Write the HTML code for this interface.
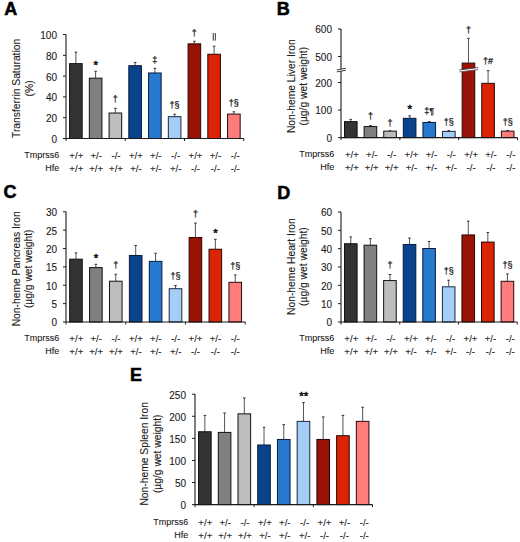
<!DOCTYPE html>
<html><head><meta charset="utf-8"><style>
html,body{margin:0;padding:0;background:#fff;width:520px;height:542px;overflow:hidden}
svg{display:block;font-family:"Liberation Sans",sans-serif}
text{fill:#1a1a1a;stroke:#1a1a1a;stroke-width:0.1px}
</style></head><body>
<svg width="520" height="542" viewBox="0 0 520 542">
<text x="4.20" y="14.80" font-size="18" text-anchor="start" font-weight="bold" style="fill:#000;stroke:#000;stroke-width:0.55px">A</text>
<line x1="75.88" y1="63.62" x2="75.88" y2="52.18" stroke="#555" stroke-width="1"/>
<line x1="74.58" y1="52.18" x2="77.17" y2="52.18" stroke="#333" stroke-width="1"/>
<rect x="69.58" y="63.62" width="12.60" height="74.88" fill="#333333" stroke="#111" stroke-width="1"/>
<line x1="95.62" y1="78.18" x2="95.62" y2="71.21" stroke="#555" stroke-width="1"/>
<line x1="94.33" y1="71.21" x2="96.92" y2="71.21" stroke="#333" stroke-width="1"/>
<rect x="89.33" y="78.18" width="12.60" height="60.32" fill="#808080" stroke="#111" stroke-width="1"/>
<text x="95.83" y="68.99" font-size="11.5" text-anchor="middle" font-weight="normal" style="stroke-width:0.6px">*</text>
<line x1="115.38" y1="113.02" x2="115.38" y2="108.34" stroke="#555" stroke-width="1"/>
<line x1="114.08" y1="108.34" x2="116.67" y2="108.34" stroke="#333" stroke-width="1"/>
<rect x="109.08" y="113.02" width="12.60" height="25.48" fill="#bdbdbd" stroke="#111" stroke-width="1"/>
<text x="115.38" y="102.16" font-size="9.0" text-anchor="middle" font-weight="normal" style="stroke-width:0.25px">†</text>
<line x1="135.12" y1="65.70" x2="135.12" y2="62.58" stroke="#555" stroke-width="1"/>
<line x1="133.82" y1="62.58" x2="136.43" y2="62.58" stroke="#333" stroke-width="1"/>
<rect x="128.82" y="65.70" width="12.60" height="72.80" fill="#08438c" stroke="#0a1a3a" stroke-width="1"/>
<line x1="154.88" y1="72.98" x2="154.88" y2="68.30" stroke="#555" stroke-width="1"/>
<line x1="153.57" y1="68.30" x2="156.18" y2="68.30" stroke="#333" stroke-width="1"/>
<rect x="148.57" y="72.98" width="12.60" height="65.52" fill="#2679cf" stroke="#0a1a3a" stroke-width="1"/>
<text x="154.88" y="62.91" font-size="9.0" text-anchor="middle" font-weight="normal" style="stroke-width:0.25px">‡</text>
<line x1="174.62" y1="116.66" x2="174.62" y2="114.27" stroke="#555" stroke-width="1"/>
<line x1="173.32" y1="114.27" x2="175.93" y2="114.27" stroke="#333" stroke-width="1"/>
<rect x="168.32" y="116.66" width="12.60" height="21.84" fill="#a4cef6" stroke="#1a2a40" stroke-width="1"/>
<text x="174.62" y="108.08" font-size="9.0" text-anchor="middle" font-weight="normal" style="stroke-width:0.25px">†§</text>
<line x1="194.38" y1="43.86" x2="194.38" y2="41.26" stroke="#555" stroke-width="1"/>
<line x1="193.07" y1="41.26" x2="195.68" y2="41.26" stroke="#333" stroke-width="1"/>
<rect x="188.07" y="43.86" width="12.60" height="94.64" fill="#981206" stroke="#2a0503" stroke-width="1"/>
<text x="194.38" y="35.87" font-size="9.0" text-anchor="middle" font-weight="normal" style="stroke-width:0.25px">†</text>
<line x1="214.12" y1="54.26" x2="214.12" y2="46.25" stroke="#555" stroke-width="1"/>
<line x1="212.82" y1="46.25" x2="215.43" y2="46.25" stroke="#333" stroke-width="1"/>
<rect x="207.82" y="54.26" width="12.60" height="84.24" fill="#da2404" stroke="#2a0503" stroke-width="1"/>
<line x1="213.22" y1="33.05" x2="213.22" y2="40.65" stroke="#2a2a2a" stroke-width="0.95"/>
<line x1="215.32" y1="33.05" x2="215.32" y2="40.65" stroke="#2a2a2a" stroke-width="0.95"/>
<line x1="233.88" y1="114.06" x2="233.88" y2="111.77" stroke="#555" stroke-width="1"/>
<line x1="232.57" y1="111.77" x2="235.18" y2="111.77" stroke="#333" stroke-width="1"/>
<rect x="227.57" y="114.06" width="12.60" height="24.44" fill="#ff7c7c" stroke="#2a0a0a" stroke-width="1"/>
<text x="233.88" y="105.59" font-size="9.0" text-anchor="middle" font-weight="normal" style="stroke-width:0.25px">†§</text>
<line x1="66.00" y1="34.50" x2="66.00" y2="138.50" stroke="#1a1a1a" stroke-width="1.1"/>
<line x1="63.00" y1="138.50" x2="66.00" y2="138.50" stroke="#1a1a1a" stroke-width="1"/>
<text x="57.00" y="142.90" font-size="10" text-anchor="end" font-weight="normal" >0</text>
<line x1="63.00" y1="117.70" x2="66.00" y2="117.70" stroke="#1a1a1a" stroke-width="1"/>
<text x="57.00" y="122.10" font-size="10" text-anchor="end" font-weight="normal" >20</text>
<line x1="63.00" y1="96.90" x2="66.00" y2="96.90" stroke="#1a1a1a" stroke-width="1"/>
<text x="57.00" y="101.30" font-size="10" text-anchor="end" font-weight="normal" >40</text>
<line x1="63.00" y1="76.10" x2="66.00" y2="76.10" stroke="#1a1a1a" stroke-width="1"/>
<text x="57.00" y="80.50" font-size="10" text-anchor="end" font-weight="normal" >60</text>
<line x1="63.00" y1="55.30" x2="66.00" y2="55.30" stroke="#1a1a1a" stroke-width="1"/>
<text x="57.00" y="59.70" font-size="10" text-anchor="end" font-weight="normal" >80</text>
<line x1="63.00" y1="34.50" x2="66.00" y2="34.50" stroke="#1a1a1a" stroke-width="1"/>
<text x="57.00" y="38.90" font-size="10" text-anchor="end" font-weight="normal" >100</text>
<line x1="66.00" y1="138.50" x2="243.75" y2="138.50" stroke="#1a1a1a" stroke-width="1.1"/>
<line x1="66.00" y1="138.50" x2="66.00" y2="141.00" stroke="#1a1a1a" stroke-width="1"/>
<line x1="125.25" y1="138.50" x2="125.25" y2="141.00" stroke="#1a1a1a" stroke-width="1"/>
<line x1="184.50" y1="138.50" x2="184.50" y2="141.00" stroke="#1a1a1a" stroke-width="1"/>
<line x1="243.75" y1="138.50" x2="243.75" y2="141.00" stroke="#1a1a1a" stroke-width="1"/>
<text x="59.30" y="157.70" font-size="9" text-anchor="end" font-weight="normal" >Tmprss6</text>
<text x="59.30" y="170.80" font-size="9" text-anchor="end" font-weight="normal" >Hfe</text>
<text x="76.30" y="158.70" font-size="9.6" text-anchor="middle" font-weight="normal" >+/+</text>
<text x="76.30" y="171.70" font-size="9.6" text-anchor="middle" font-weight="normal" >+/+</text>
<text x="96.17" y="158.70" font-size="9.6" text-anchor="middle" font-weight="normal" >+/-</text>
<text x="96.17" y="171.70" font-size="9.6" text-anchor="middle" font-weight="normal" >+/+</text>
<text x="116.04" y="158.70" font-size="9.6" text-anchor="middle" font-weight="normal" >-/-</text>
<text x="116.04" y="171.70" font-size="9.6" text-anchor="middle" font-weight="normal" >+/+</text>
<text x="135.91" y="158.70" font-size="9.6" text-anchor="middle" font-weight="normal" >+/+</text>
<text x="135.91" y="171.70" font-size="9.6" text-anchor="middle" font-weight="normal" >+/-</text>
<text x="155.78" y="158.70" font-size="9.6" text-anchor="middle" font-weight="normal" >+/-</text>
<text x="155.78" y="171.70" font-size="9.6" text-anchor="middle" font-weight="normal" >+/-</text>
<text x="175.65" y="158.70" font-size="9.6" text-anchor="middle" font-weight="normal" >-/-</text>
<text x="175.65" y="171.70" font-size="9.6" text-anchor="middle" font-weight="normal" >+/-</text>
<text x="195.52" y="158.70" font-size="9.6" text-anchor="middle" font-weight="normal" >+/+</text>
<text x="195.52" y="171.70" font-size="9.6" text-anchor="middle" font-weight="normal" >-/-</text>
<text x="215.39" y="158.70" font-size="9.6" text-anchor="middle" font-weight="normal" >+/-</text>
<text x="215.39" y="171.70" font-size="9.6" text-anchor="middle" font-weight="normal" >-/-</text>
<text x="235.26" y="158.70" font-size="9.6" text-anchor="middle" font-weight="normal" >-/-</text>
<text x="235.26" y="171.70" font-size="9.6" text-anchor="middle" font-weight="normal" >-/-</text>
<text x="0.00" y="0.00" font-size="10.3" text-anchor="middle" font-weight="normal" transform="translate(20.30,88.40) rotate(-90)">Transferrin Saturation</text>
<text x="0.00" y="0.00" font-size="10.3" text-anchor="middle" font-weight="normal" transform="translate(33.30,88.40) rotate(-90)">(%)</text>
<text x="276.80" y="14.90" font-size="18" text-anchor="start" font-weight="bold" style="fill:#000;stroke:#000;stroke-width:0.55px">B</text>
<line x1="350.81" y1="121.62" x2="350.81" y2="119.42" stroke="#555" stroke-width="1"/>
<line x1="349.51" y1="119.42" x2="352.11" y2="119.42" stroke="#333" stroke-width="1"/>
<rect x="344.51" y="121.62" width="12.60" height="15.98" fill="#333333" stroke="#111" stroke-width="1"/>
<line x1="370.42" y1="126.58" x2="370.42" y2="125.48" stroke="#555" stroke-width="1"/>
<line x1="369.12" y1="125.48" x2="371.72" y2="125.48" stroke="#333" stroke-width="1"/>
<rect x="364.12" y="126.58" width="12.60" height="11.02" fill="#808080" stroke="#111" stroke-width="1"/>
<text x="370.42" y="119.29" font-size="9.0" text-anchor="middle" font-weight="normal" style="stroke-width:0.25px">†</text>
<line x1="390.03" y1="131.13" x2="390.03" y2="130.85" stroke="#555" stroke-width="1"/>
<line x1="388.73" y1="130.85" x2="391.33" y2="130.85" stroke="#333" stroke-width="1"/>
<rect x="383.73" y="131.13" width="12.60" height="6.47" fill="#bdbdbd" stroke="#111" stroke-width="1"/>
<text x="390.03" y="125.67" font-size="9.0" text-anchor="middle" font-weight="normal" style="stroke-width:0.25px">†</text>
<line x1="409.64" y1="118.31" x2="409.64" y2="115.84" stroke="#555" stroke-width="1"/>
<line x1="408.34" y1="115.84" x2="410.94" y2="115.84" stroke="#333" stroke-width="1"/>
<rect x="403.34" y="118.31" width="12.60" height="19.28" fill="#08438c" stroke="#0a1a3a" stroke-width="1"/>
<text x="409.84" y="112.52" font-size="11.5" text-anchor="middle" font-weight="normal" style="stroke-width:0.6px">*</text>
<line x1="429.25" y1="122.45" x2="429.25" y2="121.62" stroke="#555" stroke-width="1"/>
<line x1="427.95" y1="121.62" x2="430.55" y2="121.62" stroke="#333" stroke-width="1"/>
<rect x="422.95" y="122.45" width="12.60" height="15.15" fill="#2679cf" stroke="#0a1a3a" stroke-width="1"/>
<text x="429.25" y="113.74" font-size="9.0" text-anchor="middle" font-weight="normal" style="stroke-width:0.25px">‡¶</text>
<line x1="448.86" y1="131.37" x2="448.86" y2="130.57" stroke="#555" stroke-width="1"/>
<line x1="447.56" y1="130.57" x2="450.16" y2="130.57" stroke="#333" stroke-width="1"/>
<rect x="442.56" y="131.37" width="12.60" height="6.23" fill="#a4cef6" stroke="#1a2a40" stroke-width="1"/>
<text x="448.86" y="125.19" font-size="9.0" text-anchor="middle" font-weight="normal" style="stroke-width:0.25px">†§</text>
<line x1="468.47" y1="63.10" x2="468.47" y2="38.35" stroke="#555" stroke-width="1"/>
<line x1="467.17" y1="38.35" x2="469.77" y2="38.35" stroke="#333" stroke-width="1"/>
<rect x="462.17" y="63.10" width="12.60" height="74.50" fill="#981206" stroke="#2a0503" stroke-width="1"/>
<text x="468.47" y="33.16" font-size="9.0" text-anchor="middle" font-weight="normal" style="stroke-width:0.25px">†</text>
<line x1="488.08" y1="83.33" x2="488.08" y2="70.65" stroke="#555" stroke-width="1"/>
<line x1="486.78" y1="70.65" x2="489.38" y2="70.65" stroke="#333" stroke-width="1"/>
<rect x="481.78" y="83.33" width="12.60" height="54.27" fill="#da2404" stroke="#2a0503" stroke-width="1"/>
<text x="488.08" y="64.47" font-size="9.0" text-anchor="middle" font-weight="normal" style="stroke-width:0.25px">†#</text>
<line x1="507.69" y1="131.13" x2="507.69" y2="130.44" stroke="#555" stroke-width="1"/>
<line x1="506.39" y1="130.44" x2="508.99" y2="130.44" stroke="#333" stroke-width="1"/>
<rect x="501.39" y="131.13" width="12.60" height="6.47" fill="#ff7c7c" stroke="#2a0a0a" stroke-width="1"/>
<text x="507.69" y="125.25" font-size="9.0" text-anchor="middle" font-weight="normal" style="stroke-width:0.25px">†§</text>
<line x1="341.00" y1="29.00" x2="341.00" y2="137.60" stroke="#1a1a1a" stroke-width="1.1"/>
<line x1="338.00" y1="137.60" x2="341.00" y2="137.60" stroke="#1a1a1a" stroke-width="1"/>
<text x="332.00" y="142.00" font-size="10" text-anchor="end" font-weight="normal" >0</text>
<line x1="338.00" y1="110.05" x2="341.00" y2="110.05" stroke="#1a1a1a" stroke-width="1"/>
<text x="332.00" y="114.45" font-size="10" text-anchor="end" font-weight="normal" >100</text>
<line x1="338.00" y1="82.50" x2="341.00" y2="82.50" stroke="#1a1a1a" stroke-width="1"/>
<text x="332.00" y="86.90" font-size="10" text-anchor="end" font-weight="normal" >200</text>
<line x1="338.00" y1="56.50" x2="341.00" y2="56.50" stroke="#1a1a1a" stroke-width="1"/>
<text x="332.00" y="60.90" font-size="10" text-anchor="end" font-weight="normal" >500</text>
<line x1="338.00" y1="29.00" x2="341.00" y2="29.00" stroke="#1a1a1a" stroke-width="1"/>
<text x="332.00" y="33.40" font-size="10" text-anchor="end" font-weight="normal" >600</text>
<line x1="341.00" y1="137.60" x2="517.50" y2="137.60" stroke="#1a1a1a" stroke-width="1.1"/>
<line x1="341.00" y1="137.60" x2="341.00" y2="140.10" stroke="#1a1a1a" stroke-width="1"/>
<line x1="399.83" y1="137.60" x2="399.83" y2="140.10" stroke="#1a1a1a" stroke-width="1"/>
<line x1="458.67" y1="137.60" x2="458.67" y2="140.10" stroke="#1a1a1a" stroke-width="1"/>
<line x1="517.50" y1="137.60" x2="517.50" y2="140.10" stroke="#1a1a1a" stroke-width="1"/>
<text x="334.30" y="156.80" font-size="9" text-anchor="end" font-weight="normal" >Tmprss6</text>
<text x="334.30" y="169.90" font-size="9" text-anchor="end" font-weight="normal" >Hfe</text>
<text x="351.90" y="157.80" font-size="9.6" text-anchor="middle" font-weight="normal" >+/+</text>
<text x="351.90" y="170.80" font-size="9.6" text-anchor="middle" font-weight="normal" >+/+</text>
<text x="371.77" y="157.80" font-size="9.6" text-anchor="middle" font-weight="normal" >+/-</text>
<text x="371.77" y="170.80" font-size="9.6" text-anchor="middle" font-weight="normal" >+/+</text>
<text x="391.64" y="157.80" font-size="9.6" text-anchor="middle" font-weight="normal" >-/-</text>
<text x="391.64" y="170.80" font-size="9.6" text-anchor="middle" font-weight="normal" >+/+</text>
<text x="411.51" y="157.80" font-size="9.6" text-anchor="middle" font-weight="normal" >+/+</text>
<text x="411.51" y="170.80" font-size="9.6" text-anchor="middle" font-weight="normal" >+/-</text>
<text x="431.38" y="157.80" font-size="9.6" text-anchor="middle" font-weight="normal" >+/-</text>
<text x="431.38" y="170.80" font-size="9.6" text-anchor="middle" font-weight="normal" >+/-</text>
<text x="451.25" y="157.80" font-size="9.6" text-anchor="middle" font-weight="normal" >-/-</text>
<text x="451.25" y="170.80" font-size="9.6" text-anchor="middle" font-weight="normal" >+/-</text>
<text x="471.12" y="157.80" font-size="9.6" text-anchor="middle" font-weight="normal" >+/+</text>
<text x="471.12" y="170.80" font-size="9.6" text-anchor="middle" font-weight="normal" >-/-</text>
<text x="490.99" y="157.80" font-size="9.6" text-anchor="middle" font-weight="normal" >+/-</text>
<text x="490.99" y="170.80" font-size="9.6" text-anchor="middle" font-weight="normal" >-/-</text>
<text x="510.86" y="157.80" font-size="9.6" text-anchor="middle" font-weight="normal" >-/-</text>
<text x="510.86" y="170.80" font-size="9.6" text-anchor="middle" font-weight="normal" >-/-</text>
<text x="0.00" y="0.00" font-size="10.3" text-anchor="middle" font-weight="normal" transform="translate(294.50,86.20) rotate(-90)">Non-heme Liver Iron</text>
<text x="0.00" y="0.00" font-size="10.3" text-anchor="middle" font-weight="normal" transform="translate(307.00,86.20) rotate(-90)">(µg/g wet weight)</text>
<polygon points="336.5,69.9 346,68.3 346,70.5 336.5,72.1" fill="#fff"/>
<line x1="336.8" y1="69.9" x2="345.8" y2="68.3" stroke="#222" stroke-width="0.9"/>
<line x1="336.8" y1="71.9" x2="345.8" y2="70.3" stroke="#222" stroke-width="0.9"/>
<polygon points="459.3,69.9 478.2,67.6 478.2,69.6 459.3,71.9" fill="#fff"/>
<line x1="459.3" y1="69.9" x2="478.2" y2="67.6" stroke="#333" stroke-width="0.8"/>
<line x1="459.3" y1="71.9" x2="478.2" y2="69.6" stroke="#555" stroke-width="0.8"/>
<text x="3.40" y="198.00" font-size="18" text-anchor="start" font-weight="bold" style="fill:#000;stroke:#000;stroke-width:0.55px">C</text>
<line x1="75.96" y1="259.16" x2="75.96" y2="252.91" stroke="#555" stroke-width="1"/>
<line x1="74.66" y1="252.91" x2="77.26" y2="252.91" stroke="#333" stroke-width="1"/>
<rect x="69.66" y="259.16" width="12.60" height="62.84" fill="#333333" stroke="#111" stroke-width="1"/>
<line x1="95.87" y1="267.61" x2="95.87" y2="264.30" stroke="#555" stroke-width="1"/>
<line x1="94.57" y1="264.30" x2="97.17" y2="264.30" stroke="#333" stroke-width="1"/>
<rect x="89.57" y="267.61" width="12.60" height="54.39" fill="#808080" stroke="#111" stroke-width="1"/>
<text x="96.07" y="262.08" font-size="11.5" text-anchor="middle" font-weight="normal" style="stroke-width:0.6px">*</text>
<line x1="115.78" y1="281.21" x2="115.78" y2="274.23" stroke="#555" stroke-width="1"/>
<line x1="114.48" y1="274.23" x2="117.08" y2="274.23" stroke="#333" stroke-width="1"/>
<rect x="109.48" y="281.21" width="12.60" height="40.79" fill="#bdbdbd" stroke="#111" stroke-width="1"/>
<text x="115.78" y="268.04" font-size="9.0" text-anchor="middle" font-weight="normal" style="stroke-width:0.25px">†</text>
<line x1="135.69" y1="255.48" x2="135.69" y2="245.56" stroke="#555" stroke-width="1"/>
<line x1="134.39" y1="245.56" x2="136.99" y2="245.56" stroke="#333" stroke-width="1"/>
<rect x="129.39" y="255.48" width="12.60" height="66.52" fill="#08438c" stroke="#0a1a3a" stroke-width="1"/>
<line x1="155.60" y1="261.36" x2="155.60" y2="253.28" stroke="#555" stroke-width="1"/>
<line x1="154.30" y1="253.28" x2="156.90" y2="253.28" stroke="#333" stroke-width="1"/>
<rect x="149.30" y="261.36" width="12.60" height="60.64" fill="#2679cf" stroke="#0a1a3a" stroke-width="1"/>
<line x1="175.51" y1="288.70" x2="175.51" y2="285.62" stroke="#555" stroke-width="1"/>
<line x1="174.21" y1="285.62" x2="176.81" y2="285.62" stroke="#333" stroke-width="1"/>
<rect x="169.21" y="288.70" width="12.60" height="33.30" fill="#a4cef6" stroke="#1a2a40" stroke-width="1"/>
<text x="175.51" y="279.43" font-size="9.0" text-anchor="middle" font-weight="normal" style="stroke-width:0.25px">†§</text>
<line x1="195.42" y1="237.48" x2="195.42" y2="223.14" stroke="#555" stroke-width="1"/>
<line x1="194.12" y1="223.14" x2="196.72" y2="223.14" stroke="#333" stroke-width="1"/>
<rect x="189.12" y="237.48" width="12.60" height="84.52" fill="#981206" stroke="#2a0503" stroke-width="1"/>
<text x="195.42" y="216.96" font-size="9.0" text-anchor="middle" font-weight="normal" style="stroke-width:0.25px">†</text>
<line x1="215.33" y1="249.24" x2="215.33" y2="239.31" stroke="#555" stroke-width="1"/>
<line x1="214.03" y1="239.31" x2="216.63" y2="239.31" stroke="#333" stroke-width="1"/>
<rect x="209.03" y="249.24" width="12.60" height="72.76" fill="#da2404" stroke="#2a0503" stroke-width="1"/>
<text x="215.53" y="237.09" font-size="11.5" text-anchor="middle" font-weight="normal" style="stroke-width:0.6px">*</text>
<line x1="235.24" y1="282.31" x2="235.24" y2="274.96" stroke="#555" stroke-width="1"/>
<line x1="233.94" y1="274.96" x2="236.54" y2="274.96" stroke="#333" stroke-width="1"/>
<rect x="228.94" y="282.31" width="12.60" height="39.69" fill="#ff7c7c" stroke="#2a0a0a" stroke-width="1"/>
<text x="235.24" y="268.77" font-size="9.0" text-anchor="middle" font-weight="normal" style="stroke-width:0.25px">†§</text>
<line x1="66.00" y1="211.75" x2="66.00" y2="322.00" stroke="#1a1a1a" stroke-width="1.1"/>
<line x1="63.00" y1="322.00" x2="66.00" y2="322.00" stroke="#1a1a1a" stroke-width="1"/>
<text x="57.00" y="326.40" font-size="10" text-anchor="end" font-weight="normal" >0</text>
<line x1="63.00" y1="303.62" x2="66.00" y2="303.62" stroke="#1a1a1a" stroke-width="1"/>
<text x="57.00" y="308.02" font-size="10" text-anchor="end" font-weight="normal" >5</text>
<line x1="63.00" y1="285.25" x2="66.00" y2="285.25" stroke="#1a1a1a" stroke-width="1"/>
<text x="57.00" y="289.65" font-size="10" text-anchor="end" font-weight="normal" >10</text>
<line x1="63.00" y1="266.88" x2="66.00" y2="266.88" stroke="#1a1a1a" stroke-width="1"/>
<text x="57.00" y="271.27" font-size="10" text-anchor="end" font-weight="normal" >15</text>
<line x1="63.00" y1="248.50" x2="66.00" y2="248.50" stroke="#1a1a1a" stroke-width="1"/>
<text x="57.00" y="252.90" font-size="10" text-anchor="end" font-weight="normal" >20</text>
<line x1="63.00" y1="230.12" x2="66.00" y2="230.12" stroke="#1a1a1a" stroke-width="1"/>
<text x="57.00" y="234.53" font-size="10" text-anchor="end" font-weight="normal" >25</text>
<line x1="63.00" y1="211.75" x2="66.00" y2="211.75" stroke="#1a1a1a" stroke-width="1"/>
<text x="57.00" y="216.15" font-size="10" text-anchor="end" font-weight="normal" >30</text>
<line x1="66.00" y1="322.00" x2="245.20" y2="322.00" stroke="#1a1a1a" stroke-width="1.1"/>
<line x1="66.00" y1="322.00" x2="66.00" y2="324.50" stroke="#1a1a1a" stroke-width="1"/>
<line x1="125.73" y1="322.00" x2="125.73" y2="324.50" stroke="#1a1a1a" stroke-width="1"/>
<line x1="185.47" y1="322.00" x2="185.47" y2="324.50" stroke="#1a1a1a" stroke-width="1"/>
<line x1="245.20" y1="322.00" x2="245.20" y2="324.50" stroke="#1a1a1a" stroke-width="1"/>
<text x="59.30" y="341.20" font-size="9" text-anchor="end" font-weight="normal" >Tmprss6</text>
<text x="59.30" y="354.30" font-size="9" text-anchor="end" font-weight="normal" >Hfe</text>
<text x="76.30" y="342.20" font-size="9.6" text-anchor="middle" font-weight="normal" >+/+</text>
<text x="76.30" y="355.20" font-size="9.6" text-anchor="middle" font-weight="normal" >+/+</text>
<text x="96.17" y="342.20" font-size="9.6" text-anchor="middle" font-weight="normal" >+/-</text>
<text x="96.17" y="355.20" font-size="9.6" text-anchor="middle" font-weight="normal" >+/+</text>
<text x="116.04" y="342.20" font-size="9.6" text-anchor="middle" font-weight="normal" >-/-</text>
<text x="116.04" y="355.20" font-size="9.6" text-anchor="middle" font-weight="normal" >+/+</text>
<text x="135.91" y="342.20" font-size="9.6" text-anchor="middle" font-weight="normal" >+/+</text>
<text x="135.91" y="355.20" font-size="9.6" text-anchor="middle" font-weight="normal" >+/-</text>
<text x="155.78" y="342.20" font-size="9.6" text-anchor="middle" font-weight="normal" >+/-</text>
<text x="155.78" y="355.20" font-size="9.6" text-anchor="middle" font-weight="normal" >+/-</text>
<text x="175.65" y="342.20" font-size="9.6" text-anchor="middle" font-weight="normal" >-/-</text>
<text x="175.65" y="355.20" font-size="9.6" text-anchor="middle" font-weight="normal" >+/-</text>
<text x="195.52" y="342.20" font-size="9.6" text-anchor="middle" font-weight="normal" >+/+</text>
<text x="195.52" y="355.20" font-size="9.6" text-anchor="middle" font-weight="normal" >-/-</text>
<text x="215.39" y="342.20" font-size="9.6" text-anchor="middle" font-weight="normal" >+/-</text>
<text x="215.39" y="355.20" font-size="9.6" text-anchor="middle" font-weight="normal" >-/-</text>
<text x="235.26" y="342.20" font-size="9.6" text-anchor="middle" font-weight="normal" >-/-</text>
<text x="235.26" y="355.20" font-size="9.6" text-anchor="middle" font-weight="normal" >-/-</text>
<text x="0.00" y="0.00" font-size="10.3" text-anchor="middle" font-weight="normal" transform="translate(20.10,268.80) rotate(-90)">Non-heme Pancreas Iron</text>
<text x="0.00" y="0.00" font-size="10.3" text-anchor="middle" font-weight="normal" transform="translate(32.00,268.80) rotate(-90)">(µg/g wet weight)</text>
<text x="277.20" y="198.60" font-size="18" text-anchor="start" font-weight="bold" style="fill:#000;stroke:#000;stroke-width:0.55px">D</text>
<line x1="350.79" y1="243.73" x2="350.79" y2="236.95" stroke="#555" stroke-width="1"/>
<line x1="349.49" y1="236.95" x2="352.09" y2="236.95" stroke="#333" stroke-width="1"/>
<rect x="344.49" y="243.73" width="12.60" height="78.27" fill="#333333" stroke="#111" stroke-width="1"/>
<line x1="370.37" y1="245.20" x2="370.37" y2="238.60" stroke="#555" stroke-width="1"/>
<line x1="369.07" y1="238.60" x2="371.67" y2="238.60" stroke="#333" stroke-width="1"/>
<rect x="364.07" y="245.20" width="12.60" height="76.80" fill="#808080" stroke="#111" stroke-width="1"/>
<line x1="389.94" y1="280.57" x2="389.94" y2="274.53" stroke="#555" stroke-width="1"/>
<line x1="388.64" y1="274.53" x2="391.24" y2="274.53" stroke="#333" stroke-width="1"/>
<rect x="383.64" y="280.57" width="12.60" height="41.43" fill="#bdbdbd" stroke="#111" stroke-width="1"/>
<text x="389.94" y="268.34" font-size="9.0" text-anchor="middle" font-weight="normal" style="stroke-width:0.25px">†</text>
<line x1="409.52" y1="244.46" x2="409.52" y2="238.05" stroke="#555" stroke-width="1"/>
<line x1="408.22" y1="238.05" x2="410.82" y2="238.05" stroke="#333" stroke-width="1"/>
<rect x="403.22" y="244.46" width="12.60" height="77.54" fill="#08438c" stroke="#0a1a3a" stroke-width="1"/>
<line x1="429.10" y1="248.50" x2="429.10" y2="241.53" stroke="#555" stroke-width="1"/>
<line x1="427.80" y1="241.53" x2="430.40" y2="241.53" stroke="#333" stroke-width="1"/>
<rect x="422.80" y="248.50" width="12.60" height="73.50" fill="#2679cf" stroke="#0a1a3a" stroke-width="1"/>
<line x1="448.68" y1="286.81" x2="448.68" y2="280.21" stroke="#555" stroke-width="1"/>
<line x1="447.38" y1="280.21" x2="449.98" y2="280.21" stroke="#333" stroke-width="1"/>
<rect x="442.38" y="286.81" width="12.60" height="35.19" fill="#a4cef6" stroke="#1a2a40" stroke-width="1"/>
<text x="448.68" y="274.02" font-size="9.0" text-anchor="middle" font-weight="normal" style="stroke-width:0.25px">†§</text>
<line x1="468.26" y1="234.93" x2="468.26" y2="221.19" stroke="#555" stroke-width="1"/>
<line x1="466.96" y1="221.19" x2="469.56" y2="221.19" stroke="#333" stroke-width="1"/>
<rect x="461.96" y="234.93" width="12.60" height="87.07" fill="#981206" stroke="#2a0503" stroke-width="1"/>
<line x1="487.83" y1="242.08" x2="487.83" y2="232.55" stroke="#555" stroke-width="1"/>
<line x1="486.53" y1="232.55" x2="489.13" y2="232.55" stroke="#333" stroke-width="1"/>
<rect x="481.53" y="242.08" width="12.60" height="79.92" fill="#da2404" stroke="#2a0503" stroke-width="1"/>
<line x1="507.41" y1="281.31" x2="507.41" y2="273.98" stroke="#555" stroke-width="1"/>
<line x1="506.11" y1="273.98" x2="508.71" y2="273.98" stroke="#333" stroke-width="1"/>
<rect x="501.11" y="281.31" width="12.60" height="40.69" fill="#ff7c7c" stroke="#2a0a0a" stroke-width="1"/>
<text x="507.41" y="267.79" font-size="9.0" text-anchor="middle" font-weight="normal" style="stroke-width:0.25px">†§</text>
<line x1="341.00" y1="212.00" x2="341.00" y2="322.00" stroke="#1a1a1a" stroke-width="1.1"/>
<line x1="338.00" y1="322.00" x2="341.00" y2="322.00" stroke="#1a1a1a" stroke-width="1"/>
<text x="332.00" y="326.40" font-size="10" text-anchor="end" font-weight="normal" >0</text>
<line x1="338.00" y1="303.67" x2="341.00" y2="303.67" stroke="#1a1a1a" stroke-width="1"/>
<text x="332.00" y="308.07" font-size="10" text-anchor="end" font-weight="normal" >10</text>
<line x1="338.00" y1="285.34" x2="341.00" y2="285.34" stroke="#1a1a1a" stroke-width="1"/>
<text x="332.00" y="289.74" font-size="10" text-anchor="end" font-weight="normal" >20</text>
<line x1="338.00" y1="267.01" x2="341.00" y2="267.01" stroke="#1a1a1a" stroke-width="1"/>
<text x="332.00" y="271.41" font-size="10" text-anchor="end" font-weight="normal" >30</text>
<line x1="338.00" y1="248.68" x2="341.00" y2="248.68" stroke="#1a1a1a" stroke-width="1"/>
<text x="332.00" y="253.08" font-size="10" text-anchor="end" font-weight="normal" >40</text>
<line x1="338.00" y1="230.35" x2="341.00" y2="230.35" stroke="#1a1a1a" stroke-width="1"/>
<text x="332.00" y="234.75" font-size="10" text-anchor="end" font-weight="normal" >50</text>
<line x1="338.00" y1="212.02" x2="341.00" y2="212.02" stroke="#1a1a1a" stroke-width="1"/>
<text x="332.00" y="216.42" font-size="10" text-anchor="end" font-weight="normal" >60</text>
<line x1="341.00" y1="322.00" x2="517.20" y2="322.00" stroke="#1a1a1a" stroke-width="1.1"/>
<line x1="341.00" y1="322.00" x2="341.00" y2="324.50" stroke="#1a1a1a" stroke-width="1"/>
<line x1="399.73" y1="322.00" x2="399.73" y2="324.50" stroke="#1a1a1a" stroke-width="1"/>
<line x1="458.47" y1="322.00" x2="458.47" y2="324.50" stroke="#1a1a1a" stroke-width="1"/>
<line x1="517.20" y1="322.00" x2="517.20" y2="324.50" stroke="#1a1a1a" stroke-width="1"/>
<text x="334.30" y="341.20" font-size="9" text-anchor="end" font-weight="normal" >Tmprss6</text>
<text x="334.30" y="354.30" font-size="9" text-anchor="end" font-weight="normal" >Hfe</text>
<text x="351.30" y="342.20" font-size="9.6" text-anchor="middle" font-weight="normal" >+/+</text>
<text x="351.30" y="355.20" font-size="9.6" text-anchor="middle" font-weight="normal" >+/+</text>
<text x="371.17" y="342.20" font-size="9.6" text-anchor="middle" font-weight="normal" >+/-</text>
<text x="371.17" y="355.20" font-size="9.6" text-anchor="middle" font-weight="normal" >+/+</text>
<text x="391.04" y="342.20" font-size="9.6" text-anchor="middle" font-weight="normal" >-/-</text>
<text x="391.04" y="355.20" font-size="9.6" text-anchor="middle" font-weight="normal" >+/+</text>
<text x="410.91" y="342.20" font-size="9.6" text-anchor="middle" font-weight="normal" >+/+</text>
<text x="410.91" y="355.20" font-size="9.6" text-anchor="middle" font-weight="normal" >+/-</text>
<text x="430.78" y="342.20" font-size="9.6" text-anchor="middle" font-weight="normal" >+/-</text>
<text x="430.78" y="355.20" font-size="9.6" text-anchor="middle" font-weight="normal" >+/-</text>
<text x="450.65" y="342.20" font-size="9.6" text-anchor="middle" font-weight="normal" >-/-</text>
<text x="450.65" y="355.20" font-size="9.6" text-anchor="middle" font-weight="normal" >+/-</text>
<text x="470.52" y="342.20" font-size="9.6" text-anchor="middle" font-weight="normal" >+/+</text>
<text x="470.52" y="355.20" font-size="9.6" text-anchor="middle" font-weight="normal" >-/-</text>
<text x="490.39" y="342.20" font-size="9.6" text-anchor="middle" font-weight="normal" >+/-</text>
<text x="490.39" y="355.20" font-size="9.6" text-anchor="middle" font-weight="normal" >-/-</text>
<text x="510.26" y="342.20" font-size="9.6" text-anchor="middle" font-weight="normal" >-/-</text>
<text x="510.26" y="355.20" font-size="9.6" text-anchor="middle" font-weight="normal" >-/-</text>
<text x="0.00" y="0.00" font-size="10.3" text-anchor="middle" font-weight="normal" transform="translate(294.50,266.60) rotate(-90)">Non-heme Heart Iron</text>
<text x="0.00" y="0.00" font-size="10.3" text-anchor="middle" font-weight="normal" transform="translate(307.00,266.60) rotate(-90)">(µg/g wet weight)</text>
<text x="130.00" y="380.60" font-size="18" text-anchor="start" font-weight="bold" style="fill:#000;stroke:#000;stroke-width:0.55px">E</text>
<line x1="204.86" y1="431.74" x2="204.86" y2="415.40" stroke="#555" stroke-width="1"/>
<line x1="203.56" y1="415.40" x2="206.16" y2="415.40" stroke="#333" stroke-width="1"/>
<rect x="198.56" y="431.74" width="12.60" height="72.86" fill="#333333" stroke="#111" stroke-width="1"/>
<line x1="224.58" y1="432.40" x2="224.58" y2="412.97" stroke="#555" stroke-width="1"/>
<line x1="223.28" y1="412.97" x2="225.88" y2="412.97" stroke="#333" stroke-width="1"/>
<rect x="218.28" y="432.40" width="12.60" height="72.20" fill="#808080" stroke="#111" stroke-width="1"/>
<line x1="244.31" y1="413.85" x2="244.31" y2="397.95" stroke="#555" stroke-width="1"/>
<line x1="243.01" y1="397.95" x2="245.61" y2="397.95" stroke="#333" stroke-width="1"/>
<rect x="238.01" y="413.85" width="12.60" height="90.75" fill="#bdbdbd" stroke="#111" stroke-width="1"/>
<line x1="264.03" y1="444.98" x2="264.03" y2="427.32" stroke="#555" stroke-width="1"/>
<line x1="262.73" y1="427.32" x2="265.33" y2="427.32" stroke="#333" stroke-width="1"/>
<rect x="257.73" y="444.98" width="12.60" height="59.62" fill="#08438c" stroke="#0a1a3a" stroke-width="1"/>
<line x1="283.75" y1="439.46" x2="283.75" y2="424.67" stroke="#555" stroke-width="1"/>
<line x1="282.45" y1="424.67" x2="285.05" y2="424.67" stroke="#333" stroke-width="1"/>
<rect x="277.45" y="439.46" width="12.60" height="65.14" fill="#2679cf" stroke="#0a1a3a" stroke-width="1"/>
<line x1="303.47" y1="421.36" x2="303.47" y2="402.59" stroke="#555" stroke-width="1"/>
<line x1="302.17" y1="402.59" x2="304.77" y2="402.59" stroke="#333" stroke-width="1"/>
<rect x="297.17" y="421.36" width="12.60" height="83.24" fill="#a4cef6" stroke="#1a2a40" stroke-width="1"/>
<text x="303.67" y="400.37" font-size="11.5" text-anchor="middle" font-weight="normal" style="stroke-width:0.6px">**</text>
<line x1="323.19" y1="439.46" x2="323.19" y2="416.94" stroke="#555" stroke-width="1"/>
<line x1="321.89" y1="416.94" x2="324.49" y2="416.94" stroke="#333" stroke-width="1"/>
<rect x="316.89" y="439.46" width="12.60" height="65.14" fill="#981206" stroke="#2a0503" stroke-width="1"/>
<line x1="342.92" y1="435.71" x2="342.92" y2="415.40" stroke="#555" stroke-width="1"/>
<line x1="341.62" y1="415.40" x2="344.22" y2="415.40" stroke="#333" stroke-width="1"/>
<rect x="336.62" y="435.71" width="12.60" height="68.89" fill="#da2404" stroke="#2a0503" stroke-width="1"/>
<line x1="362.64" y1="421.36" x2="362.64" y2="407.23" stroke="#555" stroke-width="1"/>
<line x1="361.34" y1="407.23" x2="363.94" y2="407.23" stroke="#333" stroke-width="1"/>
<rect x="356.34" y="421.36" width="12.60" height="83.24" fill="#ff7c7c" stroke="#2a0a0a" stroke-width="1"/>
<line x1="195.00" y1="394.10" x2="195.00" y2="504.60" stroke="#1a1a1a" stroke-width="1.1"/>
<line x1="192.00" y1="504.60" x2="195.00" y2="504.60" stroke="#1a1a1a" stroke-width="1"/>
<text x="186.00" y="509.00" font-size="10" text-anchor="end" font-weight="normal" >0</text>
<line x1="192.00" y1="482.52" x2="195.00" y2="482.52" stroke="#1a1a1a" stroke-width="1"/>
<text x="186.00" y="486.92" font-size="10" text-anchor="end" font-weight="normal" >50</text>
<line x1="192.00" y1="460.44" x2="195.00" y2="460.44" stroke="#1a1a1a" stroke-width="1"/>
<text x="186.00" y="464.84" font-size="10" text-anchor="end" font-weight="normal" >100</text>
<line x1="192.00" y1="438.36" x2="195.00" y2="438.36" stroke="#1a1a1a" stroke-width="1"/>
<text x="186.00" y="442.76" font-size="10" text-anchor="end" font-weight="normal" >150</text>
<line x1="192.00" y1="416.28" x2="195.00" y2="416.28" stroke="#1a1a1a" stroke-width="1"/>
<text x="186.00" y="420.68" font-size="10" text-anchor="end" font-weight="normal" >200</text>
<line x1="192.00" y1="394.20" x2="195.00" y2="394.20" stroke="#1a1a1a" stroke-width="1"/>
<text x="186.00" y="398.60" font-size="10" text-anchor="end" font-weight="normal" >250</text>
<line x1="195.00" y1="504.60" x2="372.50" y2="504.60" stroke="#1a1a1a" stroke-width="1.1"/>
<line x1="195.00" y1="504.60" x2="195.00" y2="507.10" stroke="#1a1a1a" stroke-width="1"/>
<line x1="254.17" y1="504.60" x2="254.17" y2="507.10" stroke="#1a1a1a" stroke-width="1"/>
<line x1="313.33" y1="504.60" x2="313.33" y2="507.10" stroke="#1a1a1a" stroke-width="1"/>
<line x1="372.50" y1="504.60" x2="372.50" y2="507.10" stroke="#1a1a1a" stroke-width="1"/>
<text x="188.30" y="525.00" font-size="9" text-anchor="end" font-weight="normal" >Tmprss6</text>
<text x="188.30" y="537.60" font-size="9" text-anchor="end" font-weight="normal" >Hfe</text>
<text x="205.30" y="526.00" font-size="9.6" text-anchor="middle" font-weight="normal" >+/+</text>
<text x="205.30" y="538.50" font-size="9.6" text-anchor="middle" font-weight="normal" >+/+</text>
<text x="225.17" y="526.00" font-size="9.6" text-anchor="middle" font-weight="normal" >+/-</text>
<text x="225.17" y="538.50" font-size="9.6" text-anchor="middle" font-weight="normal" >+/+</text>
<text x="245.04" y="526.00" font-size="9.6" text-anchor="middle" font-weight="normal" >-/-</text>
<text x="245.04" y="538.50" font-size="9.6" text-anchor="middle" font-weight="normal" >+/+</text>
<text x="264.91" y="526.00" font-size="9.6" text-anchor="middle" font-weight="normal" >+/+</text>
<text x="264.91" y="538.50" font-size="9.6" text-anchor="middle" font-weight="normal" >+/-</text>
<text x="284.78" y="526.00" font-size="9.6" text-anchor="middle" font-weight="normal" >+/-</text>
<text x="284.78" y="538.50" font-size="9.6" text-anchor="middle" font-weight="normal" >+/-</text>
<text x="304.65" y="526.00" font-size="9.6" text-anchor="middle" font-weight="normal" >-/-</text>
<text x="304.65" y="538.50" font-size="9.6" text-anchor="middle" font-weight="normal" >+/-</text>
<text x="324.52" y="526.00" font-size="9.6" text-anchor="middle" font-weight="normal" >+/+</text>
<text x="324.52" y="538.50" font-size="9.6" text-anchor="middle" font-weight="normal" >-/-</text>
<text x="344.39" y="526.00" font-size="9.6" text-anchor="middle" font-weight="normal" >+/-</text>
<text x="344.39" y="538.50" font-size="9.6" text-anchor="middle" font-weight="normal" >-/-</text>
<text x="364.26" y="526.00" font-size="9.6" text-anchor="middle" font-weight="normal" >-/-</text>
<text x="364.26" y="538.50" font-size="9.6" text-anchor="middle" font-weight="normal" >-/-</text>
<text x="0.00" y="0.00" font-size="10.3" text-anchor="middle" font-weight="normal" transform="translate(148.30,453.80) rotate(-90)">Non-heme Spleen Iron</text>
<text x="0.00" y="0.00" font-size="10.3" text-anchor="middle" font-weight="normal" transform="translate(160.50,453.80) rotate(-90)">(µg/g wet weight)</text>
</svg></body></html>
